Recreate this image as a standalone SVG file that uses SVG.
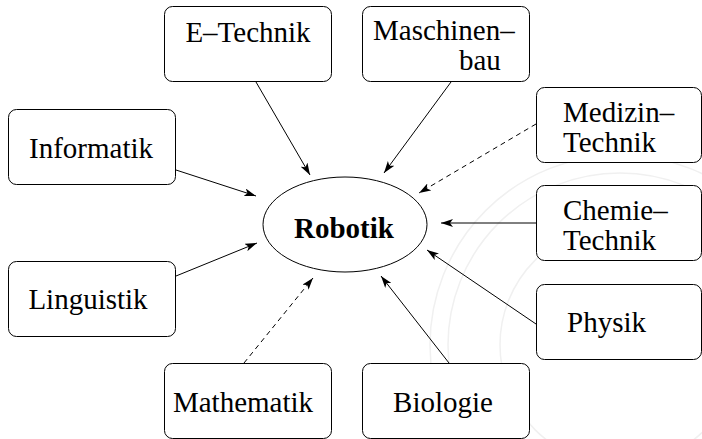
<svg xmlns="http://www.w3.org/2000/svg" width="702" height="439" viewBox="0 0 702 439">
<style>
.box{fill:#fff;stroke:#000;stroke-width:1}
.t{font-family:"Liberation Serif","Times New Roman",serif;font-size:29px;fill:#000}
.c{text-anchor:middle}
.e{stroke:#000;stroke-width:1;fill:none;marker-end:url(#ah)}
.d{stroke-dasharray:5,4}
.wm{fill:none;stroke:#f0f0f0;stroke-width:1.5}
</style>
<defs>
<marker id="ah" viewBox="0 0 12 8" refX="12" refY="4" markerWidth="12" markerHeight="8" markerUnits="userSpaceOnUse" orient="auto">
<path d="M0,0 L12,4 L0,8 L3,4 Z" fill="#000"/>
</marker>
</defs>
<rect width="702" height="439" fill="#fff"/>
<g id="watermark">
<circle class="wm" cx="620" cy="345" r="190"/>
<circle class="wm" cx="620" cy="345" r="172"/>
<circle class="wm" cx="620" cy="345" r="120"/>
</g>
<g id="connectors">
<line class="e" x1="256" y1="82" x2="310" y2="175"/>
<line class="e" x1="176" y1="170" x2="256" y2="196"/>
<line class="e" x1="451" y1="82" x2="384" y2="173"/>
<line class="e d" x1="536" y1="124" x2="419" y2="193"/>
<line class="e" x1="536" y1="223" x2="441" y2="223"/>
<line class="e" x1="536" y1="324" x2="427" y2="250"/>
<line class="e" x1="449" y1="363" x2="381" y2="276"/>
<line class="e d" x1="244" y1="363" x2="313" y2="278"/>
<line class="e" x1="176" y1="276" x2="257" y2="243"/>
</g>
<g id="robotik">
<ellipse cx="345" cy="224.5" rx="82" ry="47.5" fill="#fff" stroke="#000" stroke-width="1"/>
<text class="t c" x="344" y="238" font-weight="bold">Robotik</text>
</g>
<g id="etechnik">
<rect class="box" x="164.5" y="6.5" width="167" height="75" rx="8"/>
<text class="t c" x="248" y="42">E–Technik</text>
</g>
<g id="maschinenbau">
<rect class="box" x="362.5" y="6.5" width="167" height="75" rx="8"/>
<text class="t" x="373" y="40">Maschinen–</text>
<text class="t" x="459" y="70">bau</text>
</g>
<g id="informatik">
<rect class="box" x="8.5" y="109.5" width="167" height="75" rx="8"/>
<text class="t c" x="91" y="158">Informatik</text>
</g>
<g id="medizintechnik">
<rect class="box" x="536.5" y="87.5" width="165" height="75" rx="8"/>
<text class="t" x="563" y="122">Medizin–</text>
<text class="t" x="563" y="152">Technik</text>
</g>
<g id="chemietechnik">
<rect class="box" x="536.5" y="185.5" width="165" height="75" rx="8"/>
<text class="t" x="563" y="220">Chemie–</text>
<text class="t" x="563" y="250">Technik</text>
</g>
<g id="linguistik">
<rect class="box" x="8.5" y="261.5" width="167" height="75" rx="8"/>
<text class="t c" x="88" y="309">Linguistik</text>
</g>
<g id="physik">
<rect class="box" x="536.5" y="284.5" width="165" height="75" rx="8"/>
<text class="t" x="567" y="332">Physik</text>
</g>
<g id="mathematik">
<rect class="box" x="164.5" y="363.5" width="167" height="75" rx="8"/>
<text class="t c" x="243" y="412">Mathematik</text>
</g>
<g id="biologie">
<rect class="box" x="362.5" y="363.5" width="167" height="75" rx="8"/>
<text class="t c" x="443" y="412">Biologie</text>
</g>
</svg>
